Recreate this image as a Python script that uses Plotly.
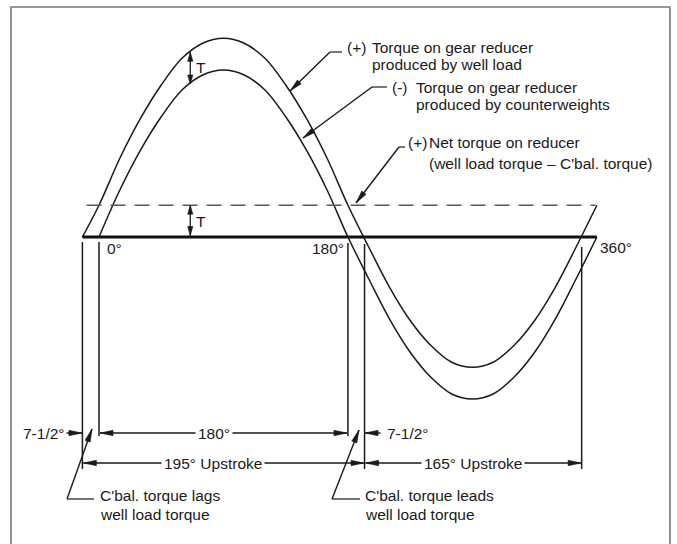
import plotly.graph_objects as go
import numpy as np

# ---------------- data ----------------
crank_angle = [0, 15, 30, 45, 60, 75, 90, 105, 120, 135, 150, 165, 180,
               195, 210, 225, 240, 255, 270, 285, 300, 315, 330, 345, 360]
cbal_torque = [0, 28, 52, 72, 88, 97, 100, 97, 88, 72, 52, 28, 0,
               -25, -49, -69, -84, -94, -97, -94, -84, -69, -49, -25, 0]
well_angle = [-12] + crank_angle
well_torque = [0, 19, 47, 71, 91, 107, 116, 119, 116, 107, 91, 71, 47, 19,
               -6, -30, -50, -65, -75, -78, -75, -65, -50, -30, -6, 19]
net_torque = 19
net_span = [-9, 359]
baseline_span = [-12, 360]
well_zero = [-12, 192, 349]      # zero crossings of well load torque
cbal_zero = [0, 180, 360]        # zero crossings of counterbalance torque
angle_labels = ["0°", "180°", "360°"]
dim_labels = ["7-1/2°", "180°", "7-1/2°", "195° Upstroke", "165° Upstroke"]
t_angle = 66

# ---------------- layout mapping ----------------
W, H = 677, 544
OX, OY = 99, 237          # pixel of (0°, 0 torque)
PXD, PXU = 1.383, 1.67    # px per degree, px per torque unit
INK = "#1a1a1a"
FONT = dict(family="Liberation Sans, Arial, Helvetica, sans-serif", size=15.5, color=INK)


def X(px):
    return (px - OX) / PXD


def Y(py):
    return (OY - py) / PXU


def PX(d):
    return OX + d * PXD


def PY(t):
    return OY - t * PXU


shapes = []


def seg(x0, y0, x1, y1, w=1.4, color=INK):
    shapes.append(dict(type="line", xref="x", yref="y", x0=X(x0), y0=Y(y0),
                       x1=X(x1), y1=Y(y1), line=dict(color=color, width=w)))


def head(tx, ty, fx, fy, L=13, hw=2.7):
    v = np.array([tx - fx, ty - fy], float)
    u = v / np.linalg.norm(v)
    p = np.array([-u[1], u[0]])
    b = np.array([tx, ty]) - u * L
    pts = [np.array([tx, ty]), b + p * hw, b - p * hw]
    path = "M " + " L ".join(f"{X(q[0]):.4f},{Y(q[1]):.4f}" for q in pts) + " Z"
    shapes.append(dict(type="path", xref="x", yref="y", path=path,
                       fillcolor=INK, line=dict(color=INK, width=0.6)))


def arrow(fx, fy, tx, ty, **kw):
    seg(fx, fy, tx, ty)
    head(tx, ty, fx, fy, **kw)


annotations = []


def text(px, py, s, anchor="left", bg=None):
    d = dict(x=X(px), y=Y(py), xref="x", yref="y", text=s, showarrow=False,
             xanchor=anchor, yanchor="middle", font=FONT)
    if bg:
        d.update(bgcolor=bg, borderpad=2)
    annotations.append(d)


fig = go.Figure()

# curves
fig.add_trace(go.Scatter(x=well_angle, y=well_torque, mode="lines",
                         line=dict(color=INK, width=1.5, shape="spline", smoothing=1.0),
                         hoverinfo="skip"))
fig.add_trace(go.Scatter(x=crank_angle, y=cbal_torque, mode="lines",
                         line=dict(color=INK, width=1.5, shape="spline", smoothing=1.0),
                         hoverinfo="skip"))
# net torque (dashed) and baseline
fig.add_trace(go.Scatter(x=net_span, y=[net_torque, net_torque], mode="lines",
                         line=dict(color="#5a5a5a", width=1.3, dash="15px,9px"),
                         hoverinfo="skip"))
fig.add_trace(go.Scatter(x=baseline_span, y=[0, 0], mode="lines",
                         line=dict(color="#111111", width=3), hoverinfo="skip"))

# T markers
w_t = float(np.interp(t_angle, well_angle, well_torque))
c_t = float(np.interp(t_angle, crank_angle, cbal_torque))
tx = PX(t_angle)
seg(tx, PY(w_t), tx, PY(c_t), w=1.3)
head(tx, PY(w_t), tx, PY(w_t) + 5, L=9, hw=2.6)
head(tx, PY(c_t), tx, PY(c_t) - 5, L=9, hw=2.6)
text(tx + 4, (PY(w_t) + PY(c_t)) / 2 - 1, "T")
seg(tx, PY(net_torque), tx, PY(0), w=1.3)
head(tx, PY(net_torque), tx, PY(net_torque) + 5, L=9, hw=2.6)
head(tx, PY(0) - 1.5, tx, PY(0) - 6, L=9, hw=2.6)
text(tx + 4, (PY(net_torque) + PY(0)) / 2, "T")

# angle labels
text(PX(cbal_zero[0]) + 6, 248, angle_labels[0])
text(PX(cbal_zero[1]) - 2, 248, angle_labels[1], anchor="right")
text(PX(cbal_zero[2]) + 1, 247, angle_labels[2])

# vertical extension lines
xa, xb = PX(well_zero[0]), PX(cbal_zero[0])
xc, xd = PX(cbal_zero[1]), PX(well_zero[1])
xe = PX(well_zero[2])
seg(xa, 242, xa, 469, w=1.5)
seg(xb, 242, xb, 436, w=1.5)
seg(xc, 243, xc, 436, w=1.5)
seg(xd, 244, xd, 469, w=1.5)
seg(xe, 247, xe, 469, w=1.5)

# dimension row 1
r1 = 433
arrow(xa - 16, r1, xa - 0.5, r1)
text(xa - 15, r1, dim_labels[0], anchor="right")
seg(xb + 1, r1, xc - 1, r1, w=1.3)
head(xb + 1, r1, xb + 20, r1)
head(xc - 1, r1, xc - 20, r1)
text(xb + 0.46 * (xc - xb), r1, dim_labels[1], anchor="center", bg="white")
arrow(xd + 16, r1, xd + 0.5, r1)
text(xd + 20, r1, dim_labels[2])

# dimension row 2
r2 = 463
seg(xa + 1, r2, xd - 1, r2, w=1.3)
head(xa + 1, r2, xa + 20, r2)
head(xd - 0.5, r2, xd - 20, r2)
text(xa + 0.463 * (xd - xa), r2, dim_labels[3], anchor="center", bg="white")
seg(xd + 1, r2, xe - 1, r2, w=1.3)
head(xd + 1, r2, xd + 20, r2)
head(xe - 0.5, r2, xe - 20, r2)
text(xd + 0.5 * (xe - xd), r2, dim_labels[4], anchor="center", bg="white")

# bottom leaders
seg(67, 499, 94, 499, w=1.2)
arrow(67, 499, 92, 429)
text(98, 495, "C'bal. torque lags")
text(98, 514, "well load torque")
seg(332, 499, 360, 499, w=1.2)
arrow(332, 499, 359, 430)
text(363, 495, "C'bal. torque leads")
text(363, 514, "well load torque")

# top leaders
seg(330, 52, 342, 52, w=1.2)
arrow(330, 52, 290, 91)
text(345, 47, "(+)")
text(370, 47, "Torque on gear reducer")
text(370, 64, "produced by well load")

seg(372, 87, 387, 87, w=1.2)
arrow(372, 87, 303, 138)
text(390, 87, "(-)")
text(414, 87, "Torque on gear reducer")
text(414, 104, "produced by counterweights")

seg(399, 147, 405, 147, w=1.2)
arrow(399, 147, 356, 203)
text(406, 142, "(+)")
text(427, 142, "Net torque on reducer")
text(427, 163, "(well load torque \u2013 C'bal. torque)")

# frame
shapes.append(dict(type="rect", xref="paper", yref="paper",
                   x0=11 / W, x1=670 / W, y0=-0.05, y1=1 - 7 / H,
                   line=dict(color="#777777", width=1.6), layer="below"))

fig.update_layout(
    width=W, height=H,
    margin=dict(l=0, r=0, t=0, b=0),
    paper_bgcolor="white", plot_bgcolor="white",
    showlegend=False,
    xaxis=dict(range=[X(0), X(W)], visible=False, fixedrange=True),
    yaxis=dict(range=[Y(H), Y(0)], visible=False, fixedrange=True),
    shapes=shapes, annotations=annotations,
)

fig.write_html("out.html", config={"displayModeBar": False},
               post_script="document.body.style.margin='0';document.body.style.overflow='hidden';")
